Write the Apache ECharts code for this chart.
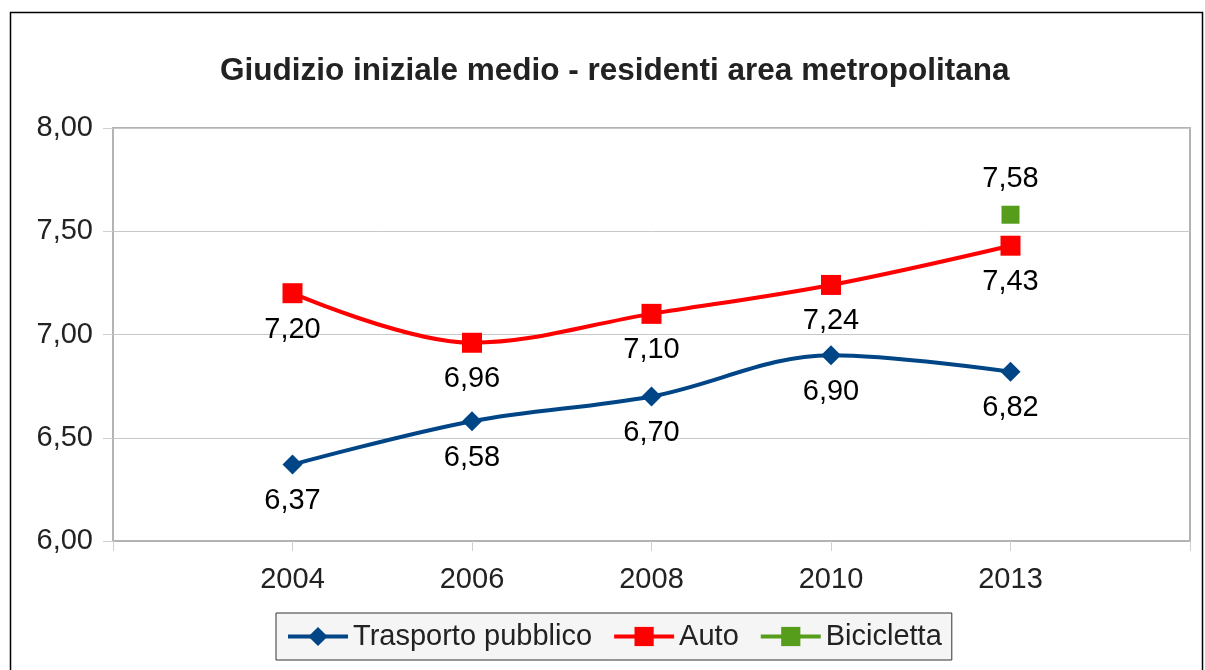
<!DOCTYPE html>
<html>
<head>
<meta charset="utf-8">
<script src="https://cdn.jsdelivr.net/npm/echarts@6/dist/echarts.min.js"></script>
<style>
  html, body { margin: 0; padding: 0; background: #fff; }
  #chart { width: 1205px; height: 670px; }
</style>
</head>
<body>
<div id="chart"></div>
<script>
// axis categories (empty ends give the half-band margins of the original)
const years = ['', '2004', '2006', '2008', '2010', '2013', ''];
const dataYears = ['2004', '2006', '2008', '2010', '2013'];
const trasporto = [6.37, 6.58, 6.70, 6.90, 6.82];
const auto = [7.20, 6.96, 7.10, 7.24, 7.43];
const biciYears = ['2013'];
const bicicletta = [7.58];

const fmt = (v) => v.toFixed(2).replace('.', ',');
const font = '"Liberation Sans", Arial, sans-serif';

const chart = echarts.init(document.getElementById('chart'));

const labelCfg = (pos) => ({
  show: true,
  position: pos,
  distance: 12,
  fontFamily: font,
  fontSize: 29,
  color: '#000',
  formatter: (p) => fmt(p.value[1]),
});

chart.setOption({
  animation: false,
  backgroundColor: '#fff',
  textStyle: { fontFamily: font },
  graphic: [{
    type: 'rect',
    shape: { x: 10.5, y: 12.5, width: 1192, height: 700 },
    style: { fill: 'none', stroke: '#000', lineWidth: 1.5 },
    silent: true,
  }],
  title: {
    text: 'Giudizio iniziale medio - residenti area metropolitana',
    left: 215,
    top: 50,
    textStyle: { fontFamily: font, fontSize: 31.5, fontWeight: 'bold', color: '#222' },
  },
  legend: {
    bottom: 10,
    left: 276,
    data: ['Trasporto pubblico', 'Auto', 'Bicicletta'],
    itemWidth: 60,
    itemHeight: 24,
    itemGap: 20,
    padding: [9, 10],
    backgroundColor: '#f5f5f5',
    borderColor: '#333',
    borderWidth: 1,
    borderRadius: 0,
    lineStyle: { width: 4 },
    textStyle: { fontFamily: font, fontSize: 29, color: '#222' },
  },
  grid: { left: 113, right: 15, top: 128, bottom: 129, show: true, borderColor: '#b3b3b3', borderWidth: 2 },
  xAxis: {
    type: 'category',
    data: years,
    boundaryGap: false,
    axisLine: { lineStyle: { color: '#b3b3b3', width: 2 } },
    axisTick: { show: true, length: 10, interval: 0, lineStyle: { color: '#d0d0d0' } },
    axisLabel: { margin: 24, interval: 0, fontFamily: font, fontSize: 29, color: '#222' },
    splitLine: { show: false },
  },
  yAxis: {
    type: 'value',
    min: 6,
    max: 8,
    interval: 0.5,
    axisLine: { show: true, lineStyle: { color: '#b3b3b3', width: 2 } },
    axisTick: { show: true, length: 10, lineStyle: { color: '#d0d0d0' } },
    axisLabel: { margin: 20, fontFamily: font, fontSize: 29, color: '#222', formatter: fmt },
    splitLine: { show: true, lineStyle: { color: '#c8c8c8', width: 1 } },
  },
  series: [
    {
      name: 'Trasporto pubblico',
      type: 'line',
      smooth: 0.35,
      data: dataYears.map((y, i) => [y, trasporto[i]]),
      symbol: 'diamond',
      symbolSize: 20,
      itemStyle: { color: '#004586' },
      lineStyle: { color: '#004586', width: 4 },
      label: labelCfg('bottom'),
    },
    {
      name: 'Auto',
      type: 'line',
      smooth: 0.35,
      data: dataYears.map((y, i) => [y, auto[i]]),
      symbol: 'rect',
      symbolSize: 20,
      itemStyle: { color: '#ff0000' },
      lineStyle: { color: '#ff0000', width: 4 },
      label: labelCfg('bottom'),
    },
    {
      name: 'Bicicletta',
      type: 'line',
      data: biciYears.map((y, i) => [y, bicicletta[i]]),
      symbol: 'rect',
      symbolSize: 18,
      itemStyle: { color: '#579d1c' },
      lineStyle: { color: '#579d1c', width: 4 },
      label: labelCfg('top'),
    },
  ],
});
</script>
</body>
</html>
